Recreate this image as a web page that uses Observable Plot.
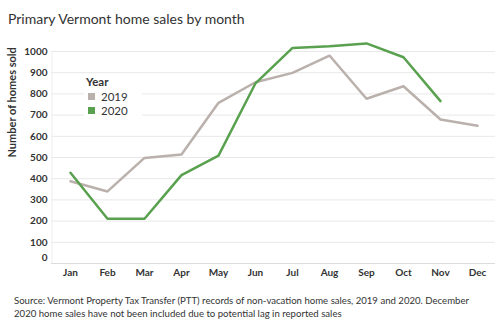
<!DOCTYPE html>
<html><head><meta charset="utf-8">
<script src="https://cdn.jsdelivr.net/npm/d3@7"></script>
<script src="https://cdn.jsdelivr.net/npm/@observablehq/plot@0.6"></script>
<style>
body{margin:0;background:#fff;font-family:Lato,"Noto Sans",sans-serif;}
#wrap{position:relative;width:500px;height:333px;overflow:hidden;}
#title{position:absolute;left:8px;top:10px;font-size:14px;color:#333;}
#chart{position:absolute;left:0;top:30px;}
#legend{position:absolute;left:84px;top:75px;background:#fff;padding:0 14px 2px 2px;font-size:11.5px;color:#333;}
#legend .h{font-weight:bold;margin-bottom:1px;}
#legend .r{display:flex;align-items:center;height:14.5px;}
#legend .sw{width:7px;height:7px;margin:0 6px 0 2px;}
#caption{position:absolute;left:14px;top:294px;font-size:9.6px;line-height:13px;color:#333;width:462px;}
</style></head>
<body><div id="wrap">
<div id="title">Primary Vermont home sales by month</div>
<div id="chart"></div>
<div id="legend"></div>
<div id="caption">Source: Vermont Property Tax Transfer (PTT) records of non-vacation home sales, 2019 and 2020. December 2020 home sales have not been included due to potential lag in reported sales</div>
</div>
<script>
const months = ["Jan","Feb","Mar","Apr","May","Jun","Jul","Aug","Sep","Oct","Nov","Dec"];
const sales2019 = [388,340,498,514,758,855,899,981,777,836,679,650];
const sales2020 = [428,211,211,417,509,850,1017,1025,1038,973,766];
const years = ["2019","2020"];
const colors = ["#bab0ac","#59a14f"];
const yTicks = [0,100,200,300,400,500,600,700,800,900,1000];

const data = [];
sales2019.forEach((v,i)=>data.push({month:months[i],year:"2019",value:v}));
sales2020.forEach((v,i)=>data.push({month:months[i],year:"2020",value:v}));

const chart = Plot.plot({
  width: 500, height: 253,
  marginLeft: 51, marginRight: 5, marginTop: 21, marginBottom: 20,
  style: {fontFamily: "Lato, 'Noto Sans', sans-serif", fontSize: "10px", color: "#333"},
  x: {type: "point", domain: months, padding: 0.5, label: null},
  y: {domain: [0,1000], label: null},
  color: {domain: years, range: colors},
  marks: [
    Plot.gridY(yTicks.filter(d=>d>0), {stroke: "#e8e8e8", strokeOpacity: 1}),
    Plot.ruleY([0], {stroke: "#dcdcdc"}),
    Plot.ruleX([months[0]], {stroke: "#eeeeee", dx: -18.5}),
    Plot.axisY(yTicks.filter(d=>d>0), {tickSize: 0, tickPadding: 4, label: null, tickFormat: d3.format("d"), fontWeight: "bold", fill: "#333"}),
    Plot.axisY([0], {tickSize: 0, tickPadding: 4, label: null, tickFormat: d3.format("d"), dy: -6, fontWeight: "bold", fill: "#333"}),
    Plot.axisX({tickSize: 0, tickPadding: 5, label: null, fontWeight: "bold", fill: "#333"}),
    Plot.text(["Number of homes sold"], {frameAnchor: "left", dx: -39, rotate: -90, fontSize: 11, fontWeight: "bold", fill: "#333"}),
    Plot.line(data, {x: "month", y: "value", z: "year", stroke: "year", strokeWidth: 2.5, strokeLinejoin: "miter", sort: "year"})
  ]
});
document.getElementById("chart").appendChild(chart);

const lg = document.getElementById("legend");
lg.innerHTML = '<div class="h">Year</div>' + years.map((y,i)=>
  `<div class="r"><span class="sw" style="background:${colors[i]}"></span>${y}</div>`).join("");
</script>
</body></html>
